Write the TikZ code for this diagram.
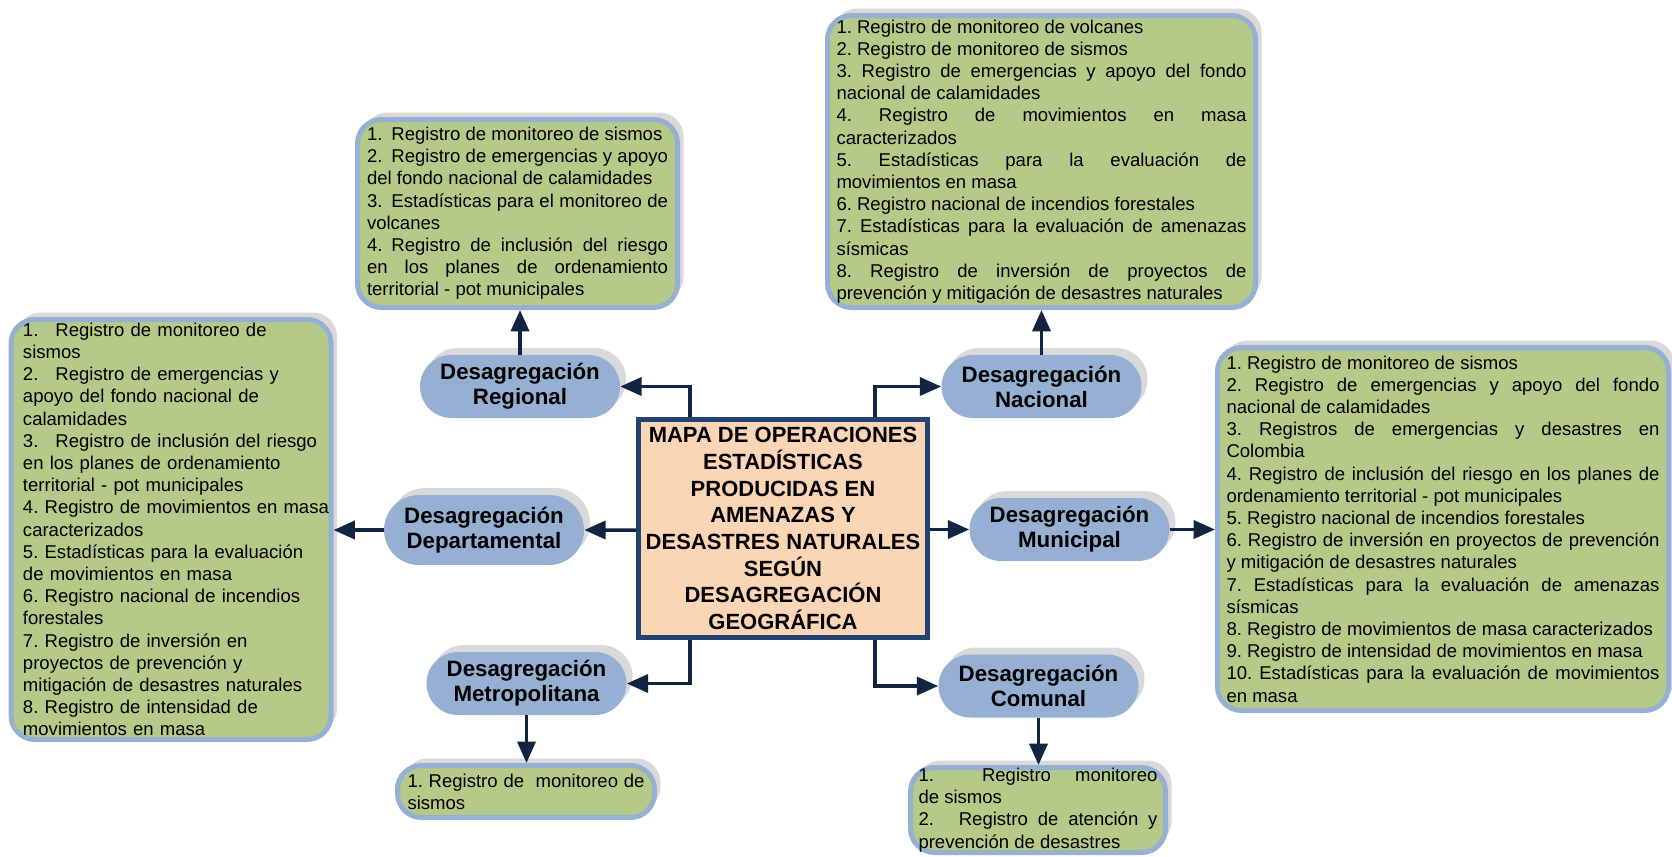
\documentclass[tikz,border=0pt]{standalone}
\usepackage{fontspec}
\setmainfont{Liberation Sans}
\usetikzlibrary{shapes.misc,shadows,arrows.meta}
\frenchspacing

\definecolor{boxgreen}{RGB}{181,202,136}
\definecolor{pillblue}{RGB}{149,176,210}
\definecolor{shadowgrey}{RGB}{217,217,217}
\definecolor{centrefill}{RGB}{251,214,182}
\definecolor{centreline}{RGB}{36,66,112}
\definecolor{navy}{RGB}{17,37,66}

\newlength{\pu}
\setlength{\pu}{0.75pt}

\begin{document}
\begin{tikzpicture}
	[
		x = 0.75pt, y = -0.75pt,
		backshadow/.style = {general shadow={fill=shadowgrey, shadow xshift=6\pu, shadow yshift=7\pu}},
		opsbox/.style = {shape=rectangle, rounded corners=18pt, draw=pillblue, line width=5\pu, fill=boxgreen, backshadow, inner sep=0pt, align=justify, font=\fontsize{13.9pt}{16.65pt}\selectfont},
		pill/.style = {shape=rounded rectangle, fill=pillblue, backshadow, inner sep=0pt, minimum width=200\pu, minimum height=63\pu, align=center, font=\bfseries\fontsize{16.7pt}{18.75pt}\selectfont},
		arr/.style = {draw=navy, line width=3.5\pu, -{Triangle[length=16pt, width=13.5pt]}}
	]
	
	\useasboundingbox (0, 0) rectangle (1672, 857);
	
	\newcommand{\pill}[5][]{\node [pill, #1] (#2) at (#3, #4) {Desagregación\\#5};}
	
	\node [draw=centreline, line width=5\pu, fill=centrefill, minimum width=289\pu, minimum height=218\pu, inner sep=0pt, align=center, font=\bfseries\fontsize{16.5pt}{20pt}\selectfont] (centro) at (783, 528.5)
		{MAPA DE OPERACIONES\\ESTADÍSTICAS\\PRODUCIDAS EN\\AMENAZAS Y\\DESASTRES NATURALES\\SEGÚN\\DESAGREGACIÓN\\GEOGRÁFICA};
	
	\pill{regional}{520}{386.5}{Regional}
	\pill{nacional}{1041.5}{386.5}{Nacional}
	\pill[minimum height=70\pu]{departamental}{484}{530}{Departamental}
	\pill{municipal}{1069.5}{529.5}{Municipal}
	\pill{metropolitana}{526.5}{683.5}{Metropolitana}
	\pill{comunal}{1038.5}{686}{Comunal}
	
	\node [opsbox, text width=301\pu, minimum width=320\pu, minimum height=188\pu] (regional-box) at (517.5, 213.5)
		{1.\hspace{9\pu}Registro de monitoreo de sismos\\
		2.\hspace{9\pu}Registro de emergencias y apoyo\linebreak del fondo nacional de calamidades\\
		3.\hspace{9\pu}Estadísticas para el monitoreo de\linebreak volcanes\\
		4.\hspace{9\pu}Registro de inclusión del riesgo\linebreak en los planes de ordenamiento\linebreak territorial - pot municipales};
	
	\node [opsbox, text width=410\pu, minimum width=428\pu, minimum height=292\pu] (nacional-box) at (1041.5, 161.5)
		{1. Registro de monitoreo de volcanes\\
		2. Registro de monitoreo de sismos\\
		3. Registro de emergencias y apoyo del fondo\linebreak nacional de calamidades\\
		4. Registro de movimientos en masa\linebreak caracterizados\\
		5. Estadísticas para la evaluación de\linebreak movimientos en masa\\
		6. Registro nacional de incendios forestales\\
		7. Estadísticas para la evaluación de amenazas\linebreak sísmicas\\
		8. Registro de inversión de proyectos de\linebreak prevención y mitigación de desastres naturales};
	
	\node [opsbox, align=left, text width=320\pu, minimum width=319\pu, minimum height=420\pu] (departamental-box) at (171, 529.5)
		{\leftskip=12\pu
		1.\hspace{17\pu}Registro de monitoreo de\\sismos\\
		2.\hspace{17\pu}Registro de emergencias y\\apoyo del fondo nacional de\\calamidades\\
		3.\hspace{17\pu}Registro de inclusión del riesgo\\en los planes de ordenamiento\\territorial - pot municipales\\
		4. Registro de movimientos en masa\\caracterizados\\
		5. Estadísticas para la evaluación\\de movimientos en masa\\
		6. Registro nacional de incendios\\forestales\\
		7. Registro de inversión en\\proyectos de prevención y\\mitigación de desastres naturales\\
		8. Registro de intensidad de\\movimientos en masa\par};
	
	\node [opsbox, text width=433\pu, minimum width=451\pu, minimum height=363\pu] (municipal-box) at (1443, 529)
		{1. Registro de monitoreo de sismos\\
		2. Registro de emergencias y apoyo del fondo\linebreak nacional de calamidades\\
		3. Registros de emergencias y desastres en\linebreak Colombia\\
		4. Registro de inclusión del riesgo en los planes de\linebreak ordenamiento territorial - pot municipales\\
		5. Registro nacional de incendios forestales\\
		6. Registro de inversión en proyectos de prevención\linebreak y mitigación de desastres naturales\\
		7. Estadísticas para la evaluación de amenazas\linebreak sísmicas\\
		8. Registro de movimientos de masa caracterizados\\
		9. Registro de intensidad de movimientos en masa\\
		10. Estadísticas para la evaluación de movimientos\linebreak en masa};
	
	\node [opsbox, text width=237\pu, minimum width=257\pu, minimum height=52\pu] (metropolitana-box) at (526, 791.5)
		{1. Registro de~~monitoreo de\linebreak sismos};
	
	\node [opsbox, text width=239\pu, minimum width=255\pu, minimum height=85\pu] (comunal-box) at (1038, 810)
		{1.\hspace{24\pu} Registro monitoreo\linebreak de sismos\\
		2.\hspace{15\pu} Registro de atención y\linebreak prevención de desastres};
	
	\draw [arr] ([xshift=54\pu]centro.north west) |- (regional);
	\draw [arr] ([xshift=-55\pu]centro.north east) |- (nacional);
	\draw [arr] ([xshift=54\pu]centro.south west) |- (metropolitana);
	\draw [arr] ([xshift=-55\pu]centro.south east) |- (comunal);
	\draw [arr] (centro.west |- departamental) -- (departamental);
	\draw [arr] (centro.east |- municipal) -- (municipal);
	
	\foreach \p/\a/\b in {regional/north/south, nacional/north/south, metropolitana/south/north, comunal/south/north}
		\draw [arr] (\p.\a) -- (\p.\a |- \p-box.\b);
	\draw [arr] (departamental.west) -- (departamental.west -| departamental-box.east);
	\draw [arr] (municipal.east) -- (municipal.east -| municipal-box.west);
\end{tikzpicture}
\end{document}
